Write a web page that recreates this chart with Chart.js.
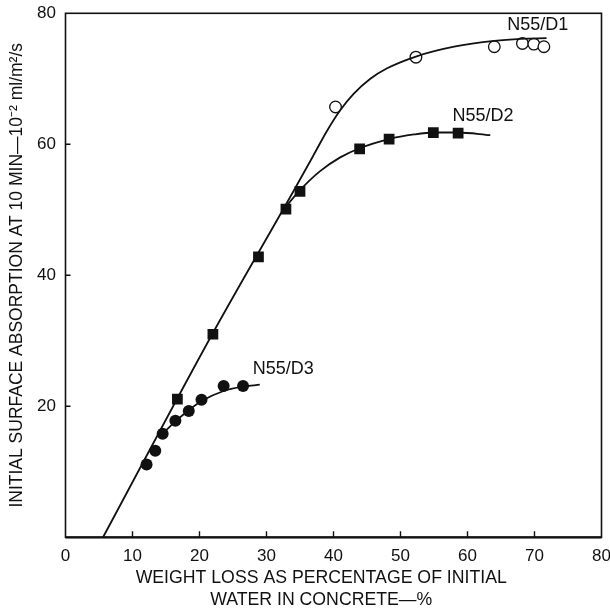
<!DOCTYPE html>
<html>
<head>
<meta charset="utf-8">
<script src="https://cdn.jsdelivr.net/npm/chart.js@4/dist/chart.umd.min.js"></script>
<style>
  html, body { margin: 0; padding: 0; background: #fff; }
  canvas { display: block; }
</style>
</head>
<body>
<canvas id="c" width="610" height="611"></canvas>
<script>
// Measured points: weight loss (% of initial water) vs initial surface absorption
const d1X = [40.3, 52.3, 64.0, 68.2, 69.9, 71.4];
const d1Y = [65.7, 73.3, 74.9, 75.4, 75.3, 74.9];

const d2X = [16.7, 22.0, 28.8, 32.9, 35.0, 43.9, 48.3, 54.9, 58.6];
const d2Y = [21.1, 31.0, 42.8, 50.1, 52.8, 59.3, 60.8, 61.8, 61.7];

const d3X = [12.1, 13.4, 14.5, 16.4, 18.4, 20.3, 23.6, 26.5];
const d3Y = [11.1, 13.2, 15.8, 17.8, 19.3, 21.0, 23.1, 23.1];

// Hand-drawn fitted curves as traced on the plot
const fit1X = [5.6, 22.0, 34.0, 37.0, 39.0, 41.0, 43.0, 45.5, 48.0, 52.3, 58.0, 64.0, 68.0, 71.8];
const fit1Y = [0.0, 31.2, 52.8, 58.3, 62.0, 65.2, 67.7, 70.0, 71.6, 73.4, 74.9, 75.8, 76.1, 76.2];

const fit2X = [32.5, 35.0, 38.0, 41.0, 43.9, 48.3, 52.0, 55.0, 58.5, 63.4];
const fit2Y = [50.0, 53.0, 55.9, 58.0, 59.4, 60.8, 61.5, 61.8, 61.8, 61.4];

const fit3X = [14.3, 16.4, 18.4, 20.3, 23.5, 26.5, 29.0];
const fit3Y = [15.6, 17.7, 19.4, 20.8, 22.3, 23.0, 23.3];

// Series captions with their anchor in data units
const captions = ['N55/D1', 'N55/D2', 'N55/D3'];
const captionX = [70.5, 62.3, 32.5];
const captionY = [78.2, 64.3, 25.7];

const xTicks = [0, 10, 20, 30, 40, 50, 60, 70, 80];
const yTicks = [0, 20, 40, 60, 80];

const INK = '#111';
const FONT = 'Liberation Sans, Arial, Helvetica, sans-serif';
const PAD = '\u00a0'.repeat(5);

const pts = (xs, ys) => xs.map((x, i) => ({ x, y: ys[i] }));

// Box frame, inward ticks and curve captions
const decor = {
  id: 'decor',
  afterDatasetsDraw(chart) {
    const { ctx, chartArea: a, scales: { x, y } } = chart;
    ctx.save();
    ctx.strokeStyle = INK;
    ctx.lineWidth = 1.6;
    ctx.strokeRect(a.left, a.top, a.right - a.left, a.bottom - a.top);
    ctx.lineWidth = 2.2;
    ctx.beginPath();
    ctx.moveTo(a.left, a.bottom);
    ctx.lineTo(a.right, a.bottom);
    ctx.stroke();
    ctx.lineWidth = 1.4;
    ctx.beginPath();
    xTicks.slice(1, -1).forEach(v => {
      const px = x.getPixelForValue(v);
      ctx.moveTo(px, a.bottom);
      ctx.lineTo(px, a.bottom - 6);
    });
    yTicks.slice(1, -1).forEach(v => {
      const py = y.getPixelForValue(v);
      ctx.moveTo(a.left, py);
      ctx.lineTo(a.left + 5, py);
    });
    ctx.stroke();
    ctx.fillStyle = INK;
    ctx.font = '18px ' + FONT;
    ctx.textAlign = 'center';
    ctx.textBaseline = 'middle';
    captions.forEach((t, i) => {
      ctx.fillText(t, x.getPixelForValue(captionX[i]), y.getPixelForValue(captionY[i]));
    });
    ctx.restore();
  }
};

const curve = (xs, ys) => ({
  data: pts(xs, ys),
  showLine: true,
  borderColor: INK,
  borderWidth: 1.8,
  pointRadius: 0,
  cubicInterpolationMode: 'monotone',
  fill: false
});

new Chart(document.getElementById('c'), {
  type: 'scatter',
  data: {
    datasets: [
      curve(fit1X, fit1Y),
      curve(fit2X, fit2Y),
      curve(fit3X, fit3Y),
      {
        data: pts(d2X, d2Y),
        pointStyle: 'rect',
        pointRadius: 7.6,
        backgroundColor: INK,
        borderColor: INK,
        borderWidth: 0
      },
      {
        data: pts(d3X, d3Y),
        pointStyle: 'circle',
        pointRadius: 6,
        backgroundColor: INK,
        borderColor: INK,
        borderWidth: 0
      },
      {
        data: pts(d1X, d1Y),
        pointStyle: 'circle',
        pointRadius: 5.8,
        backgroundColor: '#fff',
        borderColor: INK,
        borderWidth: 1.3
      }
    ]
  },
  options: {
    responsive: false,
    animation: false,
    events: [],
    layout: { padding: { top: 13.3, right: 8.5, left: 0, bottom: 0 } },
    plugins: { legend: { display: false }, tooltip: { enabled: false } },
    scales: {
      x: {
        type: 'linear',
        min: 0, max: 80,
        afterFit: s => { s.height = 73.7; s.paddingLeft = 0; s.paddingRight = 0; },
        afterBuildTicks: s => { s.ticks = xTicks.map(v => ({ value: v })); },
        grid: { display: false, drawTicks: false },
        border: { display: false },
        ticks: { color: INK, padding: 9, font: { family: FONT, size: 17 } },
        title: {
          display: true,
          text: ['WEIGHT LOSS AS PERCENTAGE OF INITIAL' + PAD, 'WATER IN CONCRETE—%' + PAD],
          color: INK,
          padding: { top: 0, bottom: 0 },
          font: { family: FONT, size: 17.7, lineHeight: 1.25 }
        }
      },
      y: {
        type: 'linear',
        min: 0, max: 80,
        afterFit: s => { s.width = 65.5; s.paddingTop = 0; s.paddingBottom = 0; },
        afterBuildTicks: s => { s.ticks = yTicks.map(v => ({ value: v })); },
        grid: { display: false, drawTicks: false },
        border: { display: false },
        ticks: {
          color: INK, padding: 9.5, font: { family: FONT, size: 17 },
          callback: v => (v === 0 ? '' : String(v))
        },
        title: {
          display: true,
          text: 'INITIAL SURFACE ABSORPTION AT 10 MIN—10⁻² ml/m²/s',
          color: INK,
          padding: { top: 6.5, bottom: 0 },
          font: { family: FONT, size: 17.5, lineHeight: 1.2 }
        }
      }
    }
  },
  plugins: [decor]
});
</script>
</body>
</html>
